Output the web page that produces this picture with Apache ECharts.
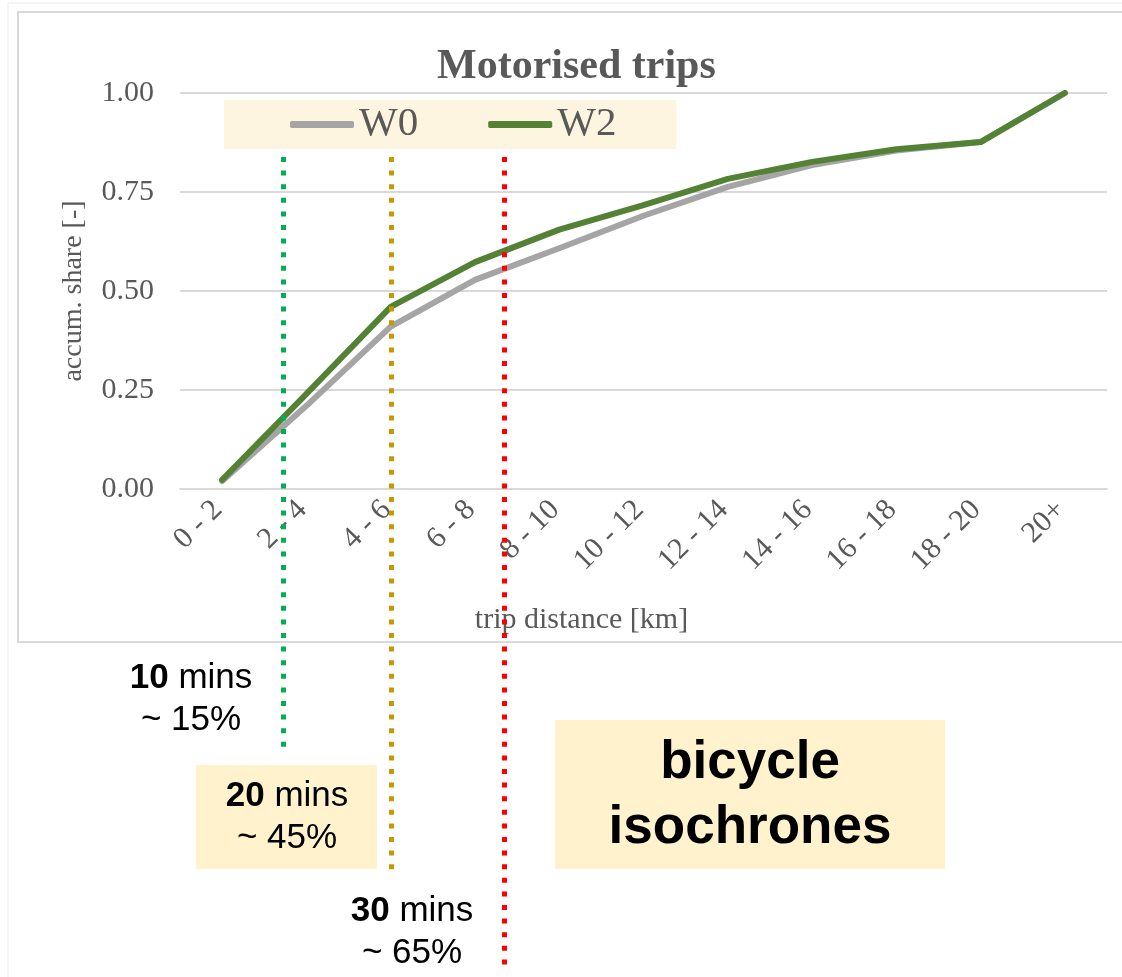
<!DOCTYPE html>
<html>
<head>
<meta charset="utf-8">
<script src="https://cdn.jsdelivr.net/npm/echarts@6/dist/echarts.min.js"></script>
<style>
  html, body { margin: 0; padding: 0; background: #fff; }
  #chart { width: 1122px; height: 977px; }
</style>
</head>
<body>
<div id="chart"></div>
<script>
// data
const categories = ['0 - 2', '2 - 4', '4 - 6', '6 - 8', '8 - 10', '10 - 12', '12 - 14', '14 - 16', '16 - 18', '18 - 20', '20+'];
const w0 = [0.02, 0.21, 0.41, 0.528, 0.608, 0.69, 0.763, 0.818, 0.855, 0.876, 1.0];
const w2 = [0.023, 0.24, 0.46, 0.573, 0.655, 0.717, 0.783, 0.826, 0.858, 0.876, 1.0];
const yTicks = [0, 0.25, 0.5, 0.75, 1];

// bicycle isochrones, position in category units
const isoPos = [0.72, 2.0, 3.35];
const isoMinutes = ['10', '20', '30'];
const isoShare = ['15%', '45%', '65%'];

const serif = '"Liberation Serif", "Times New Roman", serif';
const sans = '"Liberation Sans", Arial, sans-serif';
const grey = '#595959';

const chart = echarts.init(document.getElementById('chart'));

chart.setOption({
  animation: false,
  title: {
    text: 'Motorised trips',
    left: 432,
    top: 41,
    textStyle: { fontFamily: serif, fontSize: 42, fontWeight: 'bold', color: grey }
  },
  legend: {
    data: ['W0', 'W2'],
    left: 224,
    top: 100,
    padding: [4, 60, 4, 66],
    backgroundColor: '#fef5e0',
    icon: 'roundRect',
    itemWidth: 64,
    itemHeight: 7,
    itemGap: 70,
    textStyle: { fontFamily: serif, fontSize: 41, color: grey, lineHeight: 40 }
  },
  grid: { left: 180, right: 15, top: 93, bottom: 488 },
  xAxis: {
    type: 'category',
    data: categories,
    boundaryGap: true,
    name: 'trip distance [km]',
    nameLocation: 'middle',
    nameGap: 116,
    nameTextStyle: { fontFamily: serif, fontSize: 30, color: grey, padding: [0, 124, 0, 0] },
    axisLine: { show: true, lineStyle: { color: '#d9d9d9', width: 2 } },
    axisTick: { show: false },
    axisLabel: { rotate: 45, margin: 12, fontFamily: serif, fontSize: 30, color: grey, padding: [0, 6, 0, 0] }
  },
  yAxis: {
    type: 'value',
    min: 0,
    max: 1,
    interval: 0.25,
    name: 'accum. share [-]',
    nameLocation: 'middle',
    nameRotate: 90,
    nameGap: 92,
    nameTextStyle: { fontFamily: serif, fontSize: 28, color: grey },
    axisLine: { show: false },
    axisTick: { show: false },
    splitLine: { lineStyle: { color: '#d9d9d9', width: 2 } },
    axisLabel: {
      margin: 26,
      fontFamily: serif,
      fontSize: 30,
      color: grey,
      formatter: v => yTicks.includes(v) ? v.toFixed(2) : ''
    }
  },
  series: [
    {
      name: 'W0',
      type: 'line',
      data: w0,
      symbol: 'none',
      itemStyle: { color: '#a5a5a5' },
      lineStyle: { color: '#a5a5a5', width: 6, cap: 'round', join: 'round' },
      z: 2
    },
    {
      name: 'W2',
      type: 'line',
      data: w2,
      symbol: 'none',
      itemStyle: { color: '#548235' },
      lineStyle: { color: '#548235', width: 6, cap: 'round', join: 'round' },
      z: 3
    }
  ]
});

// pixel x for a fractional category position
function catX(p) {
  const i = Math.floor(p);
  const a = chart.convertToPixel({ xAxisIndex: 0 }, i);
  const b = chart.convertToPixel({ xAxisIndex: 0 }, i + 1);
  return a + (p - i) * (b - a);
}

const isoColors = ['#00b050', '#c49a00', '#ff0000'];
const isoTop = 157;
const isoBottom = [752, 870, 972];
const labelX = [191, 287, 412];
const labelY = [699, 817, 932];

const graphics = [
  // page edge and chart frame
  { type: 'line', shape: { x1: 8, y1: 3, x2: 1122, y2: 3 }, style: { stroke: '#ececec', lineWidth: 1 }, z: -2 },
  { type: 'line', shape: { x1: 8, y1: 3, x2: 8, y2: 977 }, style: { stroke: '#ececec', lineWidth: 1 }, z: -2 },
  { type: 'rect', shape: { x: 18, y: 12, width: 1120, height: 630 }, style: { fill: 'none', stroke: '#d9d9d9', lineWidth: 2 }, z: -1 },
  // yellow boxes
  { type: 'rect', shape: { x: 196, y: 765, width: 181, height: 104 }, style: { fill: '#fff2cc' }, z: 1 },
  { type: 'rect', shape: { x: 555, y: 720, width: 390, height: 149 }, style: { fill: '#fff2cc' }, z: 1 },
  {
    type: 'text', x: 750, y: 796, z: 5,
    style: {
      text: 'bicycle\nisochrones', align: 'center', verticalAlign: 'middle',
      font: 'bold 53px ' + sans, lineHeight: 65, fill: '#000'
    }
  }
];

isoPos.forEach((p, k) => {
  const x = Math.round(catX(p)) + 0.5;
  graphics.push({
    type: 'line', z: 10,
    shape: { x1: x, y1: isoTop, x2: x, y2: isoBottom[k] },
    style: { stroke: isoColors[k], lineWidth: 5, lineDash: [5, 8.6] }
  });
  graphics.push({
    type: 'text', x: labelX[k], y: labelY[k], z: 5,
    style: {
      text: '{b|' + isoMinutes[k] + '}{n| mins}\n{n|~ ' + isoShare[k] + '}',
      align: 'center', verticalAlign: 'middle',
      rich: {
        b: { fontFamily: sans, fontSize: 35, fontWeight: 'bold', lineHeight: 42, fill: '#000' },
        n: { fontFamily: sans, fontSize: 35, lineHeight: 42, fill: '#000' }
      }
    }
  });
});

chart.setOption({ graphic: graphics });
</script>
</body>
</html>
